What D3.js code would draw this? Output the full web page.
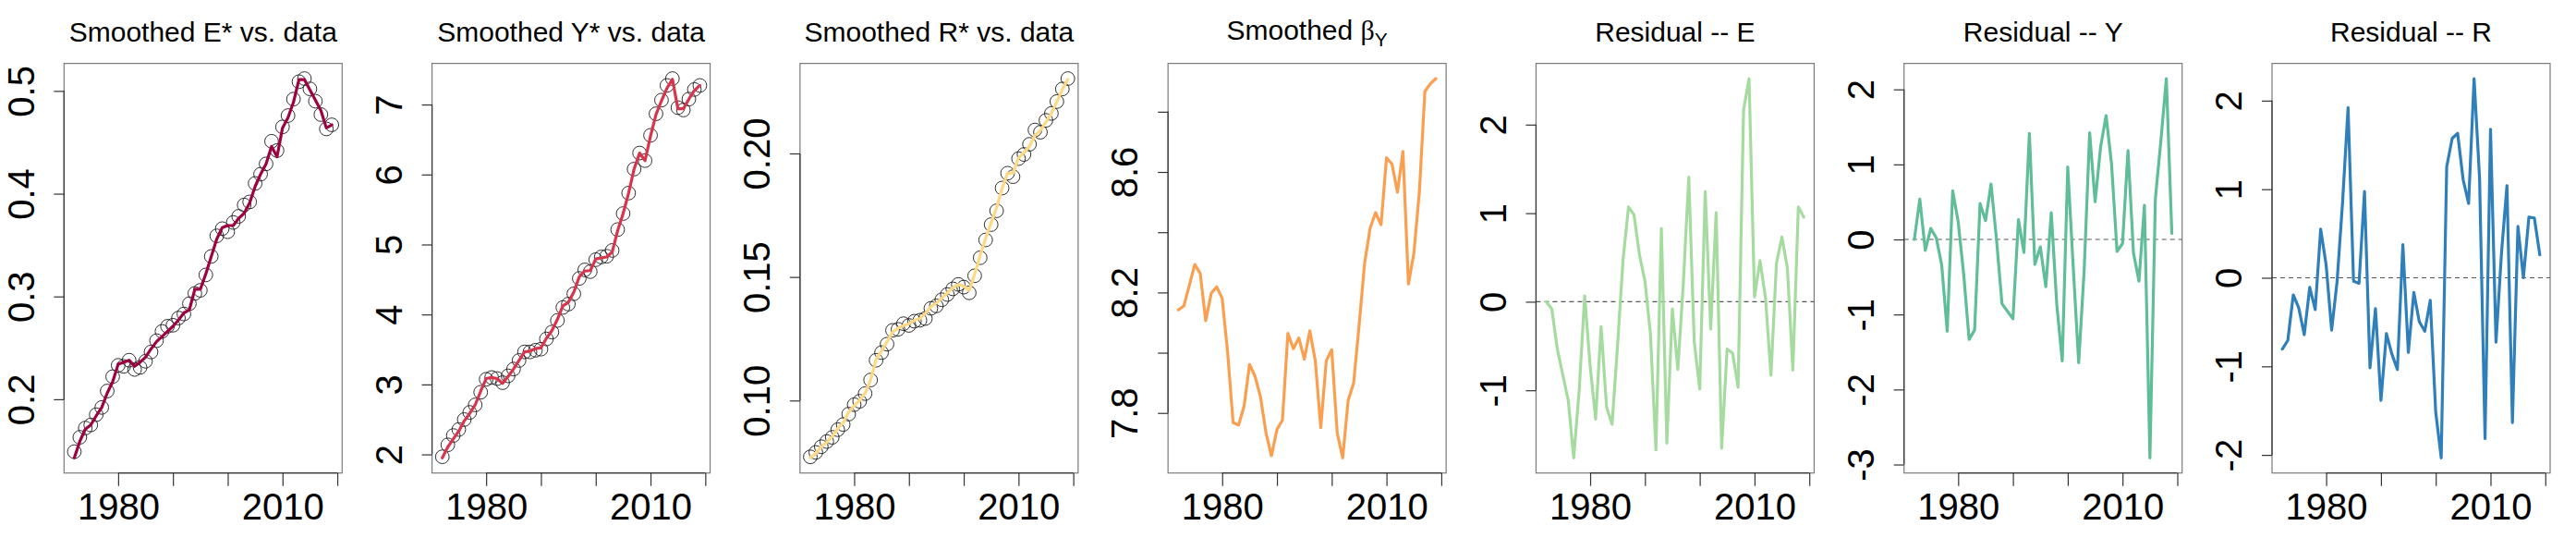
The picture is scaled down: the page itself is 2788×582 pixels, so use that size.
<!DOCTYPE html>
<html>
<head>
<meta charset="utf-8">
<script src="https://cdn.jsdelivr.net/npm/d3@7"></script>
<style>
  body { margin: 0; background: #fff; }
  svg { display: block; }
  text { font-family: "Liberation Sans", Arial, sans-serif; fill: #000; }
</style>
</head>
<body>
<svg id="chart"></svg>
<script>
// ---- data ----
const years = [1972, 1973, 1974, 1975, 1976, 1977, 1978, 1979, 1980, 1981,
  1982, 1983, 1984, 1985, 1986, 1987, 1988, 1989, 1990, 1991,
  1992, 1993, 1994, 1995, 1996, 1997, 1998, 1999, 2000, 2001,
  2002, 2003, 2004, 2005, 2006, 2007, 2008, 2009, 2010, 2011,
  2012, 2013, 2014, 2015, 2016, 2017, 2018, 2019];

const eData = [0.149, 0.163, 0.172, 0.175, 0.185, 0.192, 0.208, 0.222, 0.233, 0.232,
  0.238, 0.229, 0.231, 0.237, 0.246, 0.257, 0.266, 0.271, 0.272, 0.279,
  0.283, 0.293, 0.303, 0.306, 0.321, 0.339, 0.359, 0.366, 0.363, 0.372,
  0.378, 0.389, 0.392, 0.410, 0.419, 0.429, 0.451, 0.442, 0.465, 0.476,
  0.492, 0.509, 0.512, 0.502, 0.490, 0.477, 0.463, 0.467];
const eSmooth = [0.143, 0.159, 0.171, 0.175, 0.184, 0.192, 0.206, 0.217, 0.234, 0.236,
  0.238, 0.232, 0.236, 0.241, 0.249, 0.256, 0.261, 0.266, 0.271, 0.277,
  0.284, 0.287, 0.307, 0.307, 0.322, 0.339, 0.356, 0.367, 0.369, 0.369,
  0.376, 0.381, 0.391, 0.407, 0.419, 0.429, 0.446, 0.436, 0.464, 0.474,
  0.489, 0.511, 0.511, 0.501, 0.491, 0.481, 0.464, 0.467];

const yData = [1.966, 2.137, 2.270, 2.356, 2.498, 2.600, 2.708, 2.889, 3.074, 3.099,
  3.084, 3.025, 3.123, 3.220, 3.343, 3.465, 3.465, 3.489, 3.504, 3.650,
  3.748, 3.914, 4.100, 4.148, 4.295, 4.515, 4.637, 4.612, 4.783, 4.822,
  4.832, 4.915, 5.213, 5.442, 5.735, 6.077, 6.307, 6.199, 6.560, 6.868,
  7.063, 7.273, 7.371, 6.956, 6.922, 7.078, 7.215, 7.273];
const ySmooth = [1.951, 2.107, 2.220, 2.332, 2.479, 2.586, 2.708, 2.903, 3.084, 3.099,
  3.084, 3.016, 3.113, 3.220, 3.343, 3.465, 3.475, 3.514, 3.523, 3.660,
  3.768, 3.929, 4.124, 4.173, 4.319, 4.539, 4.622, 4.627, 4.793, 4.808,
  4.822, 4.891, 5.198, 5.442, 5.735, 6.077, 6.307, 6.199, 6.551, 6.858,
  7.054, 7.234, 7.361, 6.940, 6.940, 7.078, 7.200, 7.273];

const rData = [0.0772, 0.0790, 0.0813, 0.0834, 0.0851, 0.0882, 0.0903, 0.0945, 0.0983, 0.0997,
  0.1028, 0.1083, 0.1163, 0.1194, 0.1228, 0.1284, 0.1288, 0.1311, 0.1304, 0.1321,
  0.1325, 0.1332, 0.1373, 0.1383, 0.1408, 0.1429, 0.1452, 0.1470, 0.1459, 0.1436,
  0.1505, 0.1578, 0.1650, 0.1712, 0.1768, 0.1860, 0.1920, 0.1906, 0.1979, 0.1996,
  0.2037, 0.2095, 0.2086, 0.2134, 0.2162, 0.2210, 0.2261, 0.2303];
const rSmooth = [0.0768, 0.0786, 0.0813, 0.0831, 0.0855, 0.0887, 0.0910, 0.0952, 0.0979, 0.1000,
  0.1030, 0.1083, 0.1166, 0.1201, 0.1238, 0.1277, 0.1293, 0.1304, 0.1311, 0.1325,
  0.1332, 0.1353, 0.1380, 0.1394, 0.1415, 0.1436, 0.1456, 0.1470, 0.1463, 0.1445,
  0.1512, 0.1588, 0.1657, 0.1719, 0.1781, 0.1858, 0.1920, 0.1920, 0.1982, 0.2003,
  0.2030, 0.2072, 0.2093, 0.2127, 0.2162, 0.2210, 0.2259, 0.2300];

const betaY = [8.142, 8.155, 8.223, 8.293, 8.263, 8.106, 8.197, 8.219, 8.181, 8.001,
  7.768, 7.760, 7.822, 7.961, 7.922, 7.853, 7.734, 7.658, 7.745, 7.776,
  8.064, 8.013, 8.049, 7.978, 8.073, 7.973, 7.751, 7.973, 8.010, 7.734,
  7.651, 7.842, 7.899, 8.092, 8.297, 8.413, 8.465, 8.425, 8.647, 8.626,
  8.533, 8.668, 8.228, 8.331, 8.535, 8.867, 8.893, 8.910];

const residE = [0.000, -0.081, -0.533, -0.823, -1.113, -1.763, -0.997, 0.066, -0.727, -1.326,
  -0.282, -1.191, -1.384, -0.495, 0.472, 1.071, 0.982, 0.530, 0.232, -0.359,
  -1.674, 0.827, -1.596, -0.081, -0.765, 0.201, 1.407, -0.456, -0.986, 1.245,
  -0.309, 1.005, -1.654, -0.533, -0.580, -0.966, 2.165, 2.520, 0.054, 0.464,
  0.046, -0.831, 0.433, 0.731, 0.383, -0.773, 1.071, 0.955];
const residY = [0.000, 0.538, -0.146, 0.146, 0.023, -0.342, -1.223, 0.648, 0.237, -0.456,
  -1.332, -1.209, 0.479, 0.251, 0.739, 0.000, -0.858, -0.958, -1.058, 0.265,
  -0.173, 1.414, -0.333, -0.100, -0.630, 0.356, -0.867, -1.620, 0.967, -0.365,
  -1.642, -0.411, 1.423, 0.502, 1.232, 1.651, 1.004, -0.160, -0.055, 1.186,
  -0.182, -0.557, 0.456, -2.911, 0.547, 1.314, 2.144, 0.082];
const residR = [-0.804, -0.707, -0.193, -0.340, -0.642, -0.108, -0.359, 0.549, 0.143, -0.591,
  -0.039, 0.858, 1.921, -0.039, -0.062, 0.974, -1.016, -0.348, -1.384, -0.630,
  -0.862, -1.036, 0.375, -0.843, -0.166, -0.495, -0.603, -0.255, -1.519, -2.033,
  1.252, 1.573, 1.631, 1.109, 0.839, 2.249, 1.129, -1.816, 1.677, -0.727,
  0.278, 1.040, -1.635, 0.580, 0.000, 0.684, 0.676, 0.259];

// ticks
const xTicks = [1980, 1990, 2000, 2010, 2020];
const xTickLabels = ["1980", "", "", "2010", ""];
const eTicks = [0.2, 0.3, 0.4, 0.5];
const eTickLabels = ["0.2", "0.3", "0.4", "0.5"];
const yTicks = [2, 3, 4, 5, 6, 7];
const yTickLabels = ["2", "3", "4", "5", "6", "7"];
const rTicks = [0.10, 0.15, 0.20];
const rTickLabels = ["0.10", "0.15", "0.20"];
const betaTicks = [7.8, 8.0, 8.2, 8.4, 8.6, 8.8];
const betaTickLabels = ["7.8", "", "8.2", "", "8.6", ""];
const residETicks = [-1, 0, 1, 2];
const residETickLabels = ["-1", "0", "1", "2"];
const residYTicks = [-3, -2, -1, 0, 1, 2];
const residYTickLabels = ["-3", "-2", "-1", "0", "1", "2"];
const residRTicks = [-2, -1, 0, 1, 2];
const residRTickLabels = ["-2", "-1", "0", "1", "2"];

// ---- panel setup ----
const panels = [
  {title: "Smoothed E* vs. data", points: eData, line: eSmooth, color: "#9E0142",
   ticks: eTicks, labels: eTickLabels},
  {title: "Smoothed Y* vs. data", points: yData, line: ySmooth, color: "#D8344C",
   ticks: yTicks, labels: yTickLabels},
  {title: "Smoothed R* vs. data", points: rData, line: rSmooth, color: "#FED883",
   ticks: rTicks, labels: rTickLabels},
  {title: "beta", line: betaY, color: "#FA9F50",
   ticks: betaTicks, labels: betaTickLabels},
  {title: "Residual -- E", line: residE, color: "#A6DBA0", zero: true,
   ticks: residETicks, labels: residETickLabels},
  {title: "Residual -- Y", line: residY, color: "#5FBD97", zero: true,
   ticks: residYTicks, labels: residYTickLabels},
  {title: "Residual -- R", line: residR, color: "#2F7FBA", zero: true,
   ticks: residRTicks, labels: residRTickLabels}
];

const W = 2788, H = 582, panelW = W / 7;
const margin = {top: 68.6, right: 28, bottom: 70.3, left: 69.3};

const svg = d3.select("#chart").attr("width", W).attr("height", H);

// R style axis limits: data range stretched by 4% each side
function rRange(vals) {
  const [lo, hi] = d3.extent(vals);
  const pad = (hi - lo) * 0.04;
  return [lo - pad, hi + pad];
}

panels.forEach((p, i) => {
  const g = svg.append("g").attr("transform", `translate(${i * panelW},0)`);

  const x = d3.scaleLinear()
    .domain(rRange(years))
    .range([margin.left, panelW - margin.right]);

  const allVals = p.points ? p.line.concat(p.points) : p.line;
  const y = d3.scaleLinear()
    .domain(rRange(allVals))
    .range([H - margin.bottom, margin.top]);

  // box
  g.append("rect")
    .attr("x", margin.left).attr("y", margin.top)
    .attr("width", panelW - margin.left - margin.right)
    .attr("height", H - margin.top - margin.bottom)
    .attr("fill", "none").attr("stroke", "#7a7a7a").attr("stroke-width", 1.2);

  // zero line for residuals
  if (p.zero) {
    g.append("line")
      .attr("x1", margin.left).attr("x2", panelW - margin.right)
      .attr("y1", y(0)).attr("y2", y(0))
      .attr("stroke", "#555").attr("stroke-width", 1.1)
      .attr("stroke-dasharray", "5,4");
  }

  // data circles
  if (p.points) {
    g.append("g").selectAll("circle")
      .data(p.points)
      .enter().append("circle")
      .attr("cx", (d, k) => x(years[k]))
      .attr("cy", d => y(d))
      .attr("r", 7.4)
      .attr("fill", "none")
      .attr("stroke", "#1a1a1a")
      .attr("stroke-width", 0.9);
  }

  // line
  const path = d3.line()
    .x((d, k) => x(years[k]))
    .y(d => y(d));
  g.append("path")
    .datum(p.line)
    .attr("d", path)
    .attr("fill", "none")
    .attr("stroke", p.color)
    .attr("stroke-width", 3.2)
    .attr("stroke-linejoin", "round")
    .attr("stroke-linecap", "round");

  // x axis
  const xa = g.append("g")
    .attr("transform", `translate(0,${H - margin.bottom})`)
    .call(d3.axisBottom(x).tickValues(xTicks).tickSize(14)
      .tickFormat((d, k) => xTickLabels[k]));
  xa.select(".domain").remove();
  xa.append("line")
    .attr("x1", x(xTicks[0])).attr("x2", x(xTicks[xTicks.length - 1]))
    .attr("stroke", "#333").attr("stroke-width", 1.2);
  xa.selectAll(".tick line").attr("stroke", "#333").attr("stroke-width", 1.2);
  xa.selectAll(".tick text")
    .attr("y", 50.3).attr("dy", 0)
    .attr("font-size", 40)
    .attr("font-family", "Liberation Sans, Arial, sans-serif")
    .attr("fill", "#000");

  // y axis
  const ya = g.append("g")
    .attr("transform", `translate(${margin.left},0)`)
    .call(d3.axisLeft(y).tickValues(p.ticks).tickSize(11)
      .tickFormat((d, k) => p.labels[k]));
  ya.select(".domain").remove();
  ya.append("line")
    .attr("y1", y(p.ticks[0])).attr("y2", y(p.ticks[p.ticks.length - 1]))
    .attr("stroke", "#333").attr("stroke-width", 1.2);
  ya.selectAll(".tick line").attr("stroke", "#333").attr("stroke-width", 1.2);
  ya.selectAll(".tick text")
    .attr("x", null).attr("dy", 0)
    .attr("transform", `translate(${36.5 - margin.left},0) rotate(-90)`)
    .attr("text-anchor", "middle")
    .attr("font-size", 40)
    .attr("font-family", "Liberation Sans, Arial, sans-serif")
    .attr("fill", "#000");

  // title
  const cx = (margin.left + panelW - margin.right) / 2;
  const t = g.append("text")
    .attr("x", cx)
    .attr("text-anchor", "middle")
    .attr("font-size", 30);
  if (p.title === "beta") {
    t.attr("y", 43);
    t.append("tspan").text("Smoothed ");
    t.append("tspan").attr("font-family", "Liberation Serif, DejaVu Serif, serif").text("β");
    t.append("tspan").attr("font-size", 21).attr("dy", 7).text("Y");
  } else {
    t.attr("y", 45).text(p.title);
  }
});
</script>
</body>
</html>
